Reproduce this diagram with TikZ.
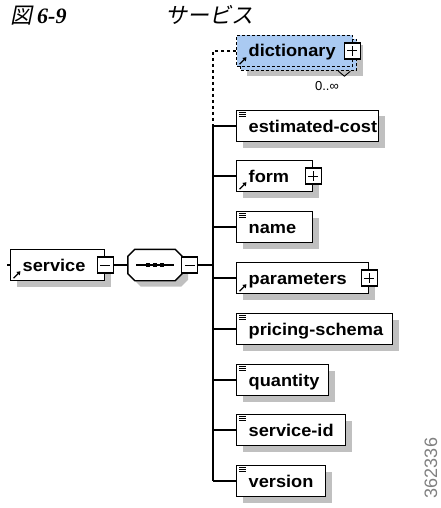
\documentclass[tikz,border=0pt]{standalone}
\usepackage{fontspec}
\setmainfont{Liberation Sans}
\newfontfamily\cjk{Noto Sans CJK JP}[FakeSlant=0.2]
\newfontfamily\tserif{Liberation Serif}
\newfontfamily\boxfont{Liberation Sans}[FakeStretch=1.07]
\usetikzlibrary{shadows,arrows.meta}
\definecolor{dictblue}{RGB}{170,202,242}
\definecolor{shadowgray}{RGB}{192,192,192}
\tikzset{
  boxshadow/.style={drop shadow={shadow xshift=6pt, shadow yshift=-6pt, fill=shadowgray, opacity=1}},
  elem/.style={draw, line width=1.4pt, fill=white, anchor=west, minimum height=31pt,
    inner xsep=12pt, inner ysep=0pt, text height=14pt, text depth=2pt,
    font=\fontsize{17}{17}\boxfont\bfseries, boxshadow},
  dictbox/.style={draw, line width=1.4pt, fill=dictblue, anchor=west, minimum height=31pt,
    inner xsep=12pt, inner ysep=0pt, text height=14pt, text depth=2pt,
    font=\fontsize{17}{17}\boxfont\bfseries, dash pattern=on 3pt off 2pt},
  xbox/.style={draw, line width=1.1pt, fill=white, minimum width=16pt, minimum height=16pt, inner sep=0pt},
  conn/.style={line width=1.5pt},
  dashconn/.style={line width=1.5pt, dash pattern=on 3pt off 3pt},
  seqframe/.style={minimum width=54pt, minimum height=31pt, inner sep=0pt},
  titlefont/.style={font=\fontsize{22}{22}\selectfont}
}
\newcommand\texticon[1]{\foreach \dy in {3,5,7}{\draw[line width=0.7pt] ([shift={(3,\dy)}]#1.north west) -- ++(6.5,0);}}
\newcommand\refarrow[1]{\draw[line width=1.3pt, -{Triangle[length=3.5pt,width=4.5pt]}] ([shift={(3.5,-3)}]#1.south west) -- ++(7,-7);}
\newcommand\plussign[1]{\draw[line width=1pt] (#1.center) +(-5,0) -- +(5,0) (#1.center) +(0,-5) -- +(0,5);}
\newcommand\minussign[1]{\draw[line width=1pt] (#1.center) +(-5,0) -- +(5,0);}
\newcommand\octpath[1]{([xshift=7pt]#1.north west) -- ([xshift=-7pt]#1.north east) -- ([yshift=-7pt]#1.north east) -- ([yshift=7pt]#1.south east) -- ([xshift=-7pt]#1.south east) -- ([xshift=7pt]#1.south west) -- ([yshift=7pt]#1.south west) -- ([yshift=-7pt]#1.north west) -- cycle}
\begin{document}
\begin{tikzpicture}[x=1pt,y=-1pt]
\useasboundingbox (0,0) rectangle (441,508);
% title
\node[titlefont, anchor=base west, inner sep=0pt] (fig) at (10,24) {{\cjk 図}\hspace{5pt}{\tserif\bfseries\itshape 6-9}};
\node[titlefont, anchor=base west, inner sep=0pt] (ttl) at (165,24) {\cjk サービス};
% dictionary (repeated, optional)
\node[dictbox, minimum width=116pt, boxshadow] (dictb) at (240,55) {\makebox[92pt][l]{}};
\node[dictbox, minimum width=116pt] (dict) at (236,51) {\makebox[92pt][l]{dictionary}};
\refarrow{dict}
\node[xbox] (dict-x) at ([xshift=-1pt]dict.east) {};
\plussign{dict-x}
\draw[line width=0.9pt] ([xshift=-19pt]dictb.south east) -- ++(6,5) -- ++(6,-5);
\node[font=\fontsize{13}{13}\selectfont, inner sep=0pt] (mult) at (327,86) {0..∞};
% children
\node[elem] (est) at (236,126) {\makebox[118pt][l]{estimated-cost}};
\node[elem] (form) at (236,176) {\makebox[52pt][l]{form}};
\node[elem] (name) at (236,227) {\makebox[52pt][l]{name}};
\node[elem] (param) at (236,278) {\makebox[108pt][l]{parameters}};
\node[elem] (price) at (236,329) {\makebox[132pt][l]{pricing-schema}};
\node[elem] (qty) at (236,380) {\makebox[68pt][l]{quantity}};
\node[elem] (sid) at (236,430) {\makebox[85pt][l]{service-id}};
\node[elem] (ver) at (236,481) {\makebox[65pt][l]{version}};
\foreach \n in {est,name,price,qty,sid,ver}{\texticon{\n}}
\refarrow{form}
\refarrow{param}
\node[xbox] (form-x) at (form.east) {};
\plussign{form-x}
\node[xbox] (param-x) at (param.east) {};
\plussign{param-x}
% service and sequence
\node[elem] (svc) at (10,265) {\makebox[70pt][l]{service}};
\refarrow{svc}
\node[xbox] (svc-x) at (svc.east) {};
\minussign{svc-x}
\node[seqframe] (seqsh) at (161,271) {};
\node[seqframe] (seq) at (155,265) {};
\fill[shadowgray] \octpath{seqsh};
\draw[line width=1.4pt, fill=white] \octpath{seq};
\draw[line width=1.2pt] (seq.center) +(-19,0) -- +(19,0);
\foreach \dx in {-7,0,7}{\fill ([xshift=\dx pt]seq.center) +(-2,-2) rectangle +(2,2);}
\node[xbox, anchor=west] (seq-x) at ([xshift=-1pt]seq.east) {};
\minussign{seq-x}
% connectors
\coordinate (bus) at (213,265);
\draw[conn] (svc.west) -- ++(-3,0);
\draw[conn] (svc-x.east) -- (seq.west);
\draw[conn] (seq-x.east) -- (bus);
\draw[dashconn] (dict.west) -- (dict.west -| bus) -- (est.west -| bus);
\draw[conn] (est.west -| bus) -- (ver.west -| bus);
\foreach \n in {est,form,name,param,price,qty,sid,ver}{\draw[conn] (\n.west -| bus) -- (\n.west);}
% figure code
\node[rotate=90, font=\fontsize{18}{18}\selectfont, text=black!50, inner sep=0pt] (code) at (431,468) {362336};
\end{tikzpicture}
\end{document}
